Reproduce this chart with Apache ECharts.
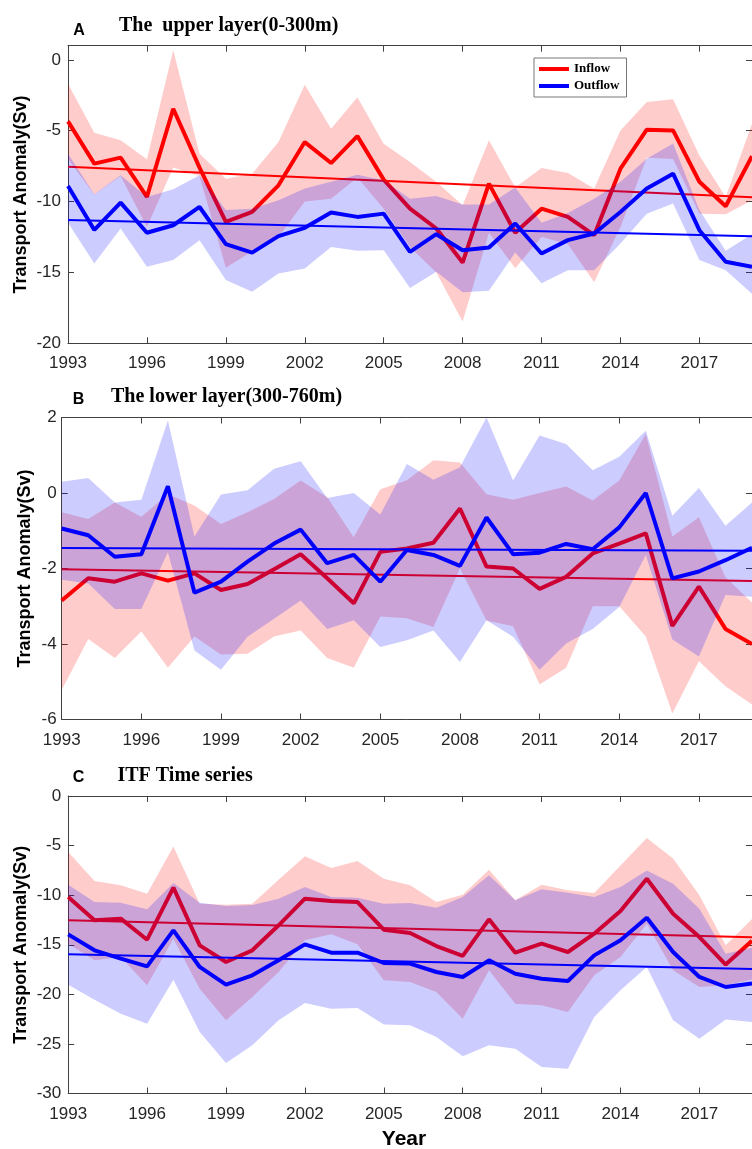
<!DOCTYPE html>
<html><head><meta charset="utf-8">
<script src="https://cdn.jsdelivr.net/npm/echarts@6/dist/echarts.min.js"></script>
<style>html,body{margin:0;padding:0;background:#fff}#c{width:752px;height:1149px}</style>
</head><body><div id="c"></div>
<script>
// ---------- data ----------
const years = ['1993','1994','1995','1996','1997','1998','1999','2000','2001','2002','2003','2004','2005','2006','2007','2008','2009','2010','2011','2012','2013','2014','2015','2016','2017','2018','2019'];

// Panel A: upper layer (0-300m)
const inflowA      = [-4.34,-7.32,-6.9,-9.67,-3.45,-7.6,-11.43,-10.73,-8.85,-5.8,-7.28,-5.38,-8.45,-10.5,-11.9,-14.3,-8.73,-12.2,-10.5,-11.08,-12.37,-7.68,-4.93,-4.98,-8.6,-10.33,-6.8];
const inflowA_hi   = [-1.69,-5.14,-5.68,-7.02,0.7,-6.62,-8.38,-8.03,-5.8,-1.76,-4.86,-2.63,-5.92,-7.2,-8.6,-10.26,-5.68,-9.0,-7.63,-7.98,-9.08,-4.98,-2.98,-2.77,-6.74,-9.67,-4.5];
const inflowA_lo   = [-7.0,-9.5,-8.2,-11.8,-7.6,-8.2,-14.67,-13.5,-12.5,-10.0,-9.8,-8.3,-10.5,-13.2,-15.0,-18.47,-12.2,-14.7,-12.5,-13.0,-15.7,-11.8,-6.9,-7.0,-10.85,-10.9,-9.9];
const outflowA     = [-8.9,-12.0,-10.07,-12.2,-11.67,-10.38,-13.0,-13.6,-12.44,-11.85,-10.77,-11.08,-10.85,-13.55,-12.3,-13.43,-13.24,-11.55,-13.66,-12.72,-12.25,-10.73,-9.08,-8.03,-12.02,-14.25,-14.6];
const outflowA_hi  = [-6.62,-9.48,-8.15,-9.67,-9.13,-8.15,-10.6,-10.5,-9.9,-9.08,-8.6,-8.1,-8.5,-9.8,-9.6,-10.2,-10.2,-9.0,-11.5,-10.8,-9.8,-8.6,-6.97,-5.9,-10.6,-13.47,-12.3];
const outflowA_lo  = [-11.5,-14.37,-11.9,-14.6,-14.13,-12.72,-15.54,-16.36,-15.07,-14.72,-13.2,-13.47,-13.43,-16.1,-14.95,-16.4,-16.3,-13.6,-15.77,-14.84,-14.84,-12.96,-10.85,-10.14,-14.13,-14.84,-16.5];
const trendInA  = [-7.55, -9.7];
const trendOutA = [-11.3, -12.45];

// Panel B: lower layer (300-760m)
const inflowB      = [-2.85,-2.26,-2.35,-2.13,-2.32,-2.13,-2.57,-2.41,-2.02,-1.62,-2.26,-2.92,-1.56,-1.47,-1.32,-0.41,-1.95,-2.0,-2.54,-2.22,-1.6,-1.34,-1.07,-3.52,-2.48,-3.6,-4.0];
const inflowB_hi   = [-0.51,-0.69,-0.25,-0.63,-0.03,-0.33,-0.82,-0.51,-0.16,0.33,-0.11,-1.17,0.1,0.34,0.87,0.81,-0.03,-0.18,0.0,0.17,-0.2,0.33,1.56,-1.15,-0.64,-2.23,-2.9];
const inflowB_lo   = [-5.22,-3.87,-4.37,-3.67,-4.63,-3.8,-4.28,-4.26,-3.8,-3.64,-4.37,-4.63,-3.27,-3.32,-3.55,-2.0,-3.38,-3.53,-5.07,-4.63,-3.0,-3.0,-3.8,-5.84,-4.46,-5.12,-5.6];
const outflowB     = [-0.94,-1.12,-1.69,-1.62,0.18,-2.64,-2.35,-1.82,-1.34,-0.97,-1.86,-1.64,-2.35,-1.51,-1.64,-1.93,-0.65,-1.62,-1.58,-1.35,-1.49,-0.91,0.0,-2.26,-2.08,-1.78,-1.45];
const outflowB_hi  = [0.3,0.4,-0.25,-0.18,1.92,-1.15,-0.04,0.07,0.64,0.84,-0.13,0.0,-0.57,0.77,0.35,0.68,2.0,0.33,1.52,1.3,0.6,0.96,1.65,-0.6,0.13,-0.87,-0.25];
const outflowB_lo  = [-2.3,-2.4,-3.07,-3.07,-1.57,-4.17,-4.68,-3.81,-3.33,-2.85,-3.6,-3.37,-4.08,-3.9,-3.64,-4.48,-3.37,-3.81,-4.68,-3.99,-3.6,-3.02,-1.64,-3.88,-4.33,-2.7,-2.75];
const trendInB  = [-2.02, -2.33];
const trendOutB = [-1.46, -1.53];

// Panel C: ITF time series
const inflowC      = [-10.18,-12.54,-12.37,-14.49,-9.24,-15.06,-16.74,-15.56,-13.04,-10.35,-10.59,-10.69,-13.48,-13.82,-15.13,-16.13,-12.44,-15.8,-14.89,-15.73,-13.88,-11.6,-8.34,-11.87,-14.22,-17.0,-14.6];
const inflowC_hi   = [-5.65,-8.57,-9.0,-9.85,-5.08,-10.86,-10.96,-10.86,-8.44,-6.08,-7.26,-6.55,-8.34,-9.0,-10.7,-9.95,-7.43,-10.5,-8.94,-9.5,-9.78,-7.0,-4.24,-6.3,-10.0,-15.06,-12.4];
const inflowC_lo   = [-14.89,-16.57,-16.24,-19.09,-14.39,-19.43,-22.62,-20.27,-17.75,-14.55,-13.95,-14.96,-18.59,-18.76,-19.76,-22.45,-17.58,-20.94,-21.1,-21.78,-18.08,-16.24,-12.87,-17.58,-19.26,-19.09,-18.5];
const outflowC     = [-13.95,-15.56,-16.4,-17.18,-13.55,-17.24,-19.03,-18.08,-16.57,-14.96,-15.8,-15.8,-16.84,-16.9,-17.75,-18.25,-16.57,-17.92,-18.42,-18.66,-16.07,-14.55,-12.27,-15.73,-18.25,-19.26,-18.9];
const outflowC_hi  = [-8.94,-10.7,-10.76,-11.43,-8.77,-10.76,-11.1,-11.0,-10.35,-9.18,-10.18,-10.25,-10.86,-10.79,-11.26,-10.18,-8.0,-10.52,-9.41,-9.75,-10.18,-9.18,-7.5,-8.84,-11.36,-15.9,-15.3];
const outflowC_lo  = [-19.03,-20.54,-21.95,-22.96,-18.52,-23.8,-26.92,-25.14,-22.62,-20.87,-21.45,-21.38,-23.03,-23.13,-24.3,-26.25,-25.14,-25.48,-27.33,-27.5,-22.29,-19.6,-17.24,-22.62,-24.47,-22.55,-22.8];
const trendInC  = [-12.54, -14.25];
const trendOutC = [-15.97, -17.45];

const titles = ['The  upper layer(0-300m)', 'The lower layer(300-760m)', 'ITF Time series'];
const letters = ['A', 'B', 'C'];
const yName = 'Transport Anomaly(Sv)';
const xName = 'Year';

// ---------- layout / style ----------
const SANS = 'Arial, "Liberation Sans", Helvetica, sans-serif';
const SERIF = '"Times New Roman", "Liberation Serif", serif';
const AX = '#404040';
const RED = '#ff0000', BLUE = '#0000ff';
const RED_BAND = 'rgba(255,0,0,0.2)', BLUE_BAND = 'rgba(0,0,255,0.2)';

const panels = [
  {grid:{left:68, top:45.7, width:690.3, height:297.6}, y:[-20,1,5], showMax:false, labelMargin:7, nameGap:38,
   inn:inflowA, innHi:inflowA_hi, innLo:inflowA_lo, out:outflowA, outHi:outflowA_hi, outLo:outflowA_lo, tIn:trendInA, tOut:trendOutA},
  {grid:{left:61.7, top:417.5, width:699.4, height:302}, y:[-6,2,2], showMax:true, labelMargin:5, nameGap:28,
   inn:inflowB, innHi:inflowB_hi, innLo:inflowB_lo, out:outflowB, outHi:outflowB_hi, outLo:outflowB_lo, tIn:trendInB, tOut:trendOutB},
  {grid:{left:68.2, top:796, width:690.3, height:297.5}, y:[-30,0,5], showMax:true, labelMargin:7, nameGap:38,
   inn:inflowC, innHi:inflowC_hi, innLo:inflowC_lo, out:outflowC, outHi:outflowC_hi, outLo:outflowC_lo, tIn:trendInC, tOut:trendOutC}
];

const grids = [], xAxes = [], yAxes = [], series = [];
const diff = (hi, lo) => hi.map((v, i) => +(v - lo[i]).toFixed(3));
const first = years[0], last = years[years.length - 1];

panels.forEach((p, i) => {
  grids.push(Object.assign({containLabel:false}, p.grid));
  const xBase = {type:'category', gridIndex:i, data:years, boundaryGap:false,
    axisLine:{show:true, onZero:false, lineStyle:{color:AX, width:1}},
    axisTick:{show:true, inside:true, length:6, interval:2, lineStyle:{color:AX}},
    splitLine:{show:false}};
  xAxes.push(Object.assign({}, xBase, {position:'bottom',
    axisLabel:{interval:2, margin:12, fontSize:17, color:'#262626', fontFamily:SANS}}));
  xAxes.push(Object.assign({}, xBase, {position:'top', axisLabel:{show:false}}));
  const yBase = {type:'value', gridIndex:i, min:p.y[0], max:p.y[1], interval:p.y[2],
    axisLine:{show:true, onZero:false, lineStyle:{color:AX, width:1}},
    axisTick:{show:true, inside:true, length:6, lineStyle:{color:AX}},
    splitLine:{show:false}};
  yAxes.push(Object.assign({}, yBase, {position:'left',
    axisLabel:{margin:p.labelMargin, fontSize:17, color:'#262626', fontFamily:SANS, showMaxLabel:p.showMax},
    name:yName, nameLocation:'middle', nameGap:p.nameGap, nameRotate:90, nameMoveOverlap:false,
    nameTextStyle:{fontFamily:SANS, fontWeight:'bold', fontSize:18, color:'#000'}}));
  yAxes.push(Object.assign({}, yBase, {position:'right', axisLabel:{show:false}}));

  const xi = 2 * i, yi = 2 * i;
  const common = {type:'line', xAxisIndex:xi, yAxisIndex:yi, symbol:'none', silent:true,
    emphasis:{disabled:true}, animation:false};
  const band = (lo, hi, color, key, z) => [
    Object.assign({}, common, {name:key + ' lower', data:lo, stack:key, stackStrategy:'all', z:z,
      lineStyle:{width:0, opacity:0}}),
    Object.assign({}, common, {name:key + ' band', data:diff(hi, lo), stack:key, stackStrategy:'all', z:z,
      lineStyle:{width:0, opacity:0}, areaStyle:{color:color, opacity:1}})
  ];
  series.push(...band(p.innLo, p.innHi, RED_BAND, 'in' + i, 1));
  series.push(Object.assign({}, common, {name:'Inflow', data:p.inn, z:2,
    lineStyle:{color:RED, width:4}, itemStyle:{color:RED}}));
  series.push(Object.assign({}, common, {name:'Inflow trend', data:[[first, p.tIn[0]], [last, p.tIn[1]]], z:3,
    lineStyle:{color:RED, width:2}, itemStyle:{color:RED}}));
  series.push(...band(p.outLo, p.outHi, BLUE_BAND, 'out' + i, 4));
  series.push(Object.assign({}, common, {name:'Outflow', data:p.out, z:5,
    lineStyle:{color:BLUE, width:4}, itemStyle:{color:BLUE}}));
  series.push(Object.assign({}, common, {name:'Outflow trend', data:[[first, p.tOut[0]], [last, p.tOut[1]]], z:6,
    lineStyle:{color:BLUE, width:2}, itemStyle:{color:BLUE}}));
});

const txt = (x, y, text, font, align) => ({type:'text', x:x, y:y, silent:true, z:20,
  style:{text:text, font:font, fill:'#000', align:align || 'left', verticalAlign:'middle'}});

const graphics = [
  txt(79, 31, letters[0], 'bold 16px ' + SANS, 'center'),
  txt(119, 26, titles[0], 'bold 20px ' + SERIF),
  txt(78.5, 400, letters[1], 'bold 16px ' + SANS, 'center'),
  txt(111, 397, titles[1], 'bold 20px ' + SERIF),
  txt(78.5, 777.5, letters[2], 'bold 16px ' + SANS, 'center'),
  txt(117.5, 776, titles[2], 'bold 20px ' + SERIF),
  txt(404, 1139, xName, 'bold 21px ' + SANS, 'center')
];

const chart = echarts.init(document.getElementById('c'), null, {renderer:'canvas', width:752, height:1149});
chart.setOption({
  animation:false,
  backgroundColor:'#fff',
  grid:grids, xAxis:xAxes, yAxis:yAxes, series:series,
  legend:{data:['Inflow','Outflow'], left:534, top:58, orient:'vertical', icon:'rect', z:10,
    itemWidth:30, itemHeight:4, itemGap:3, padding:[4,7,4,5],
    borderColor:'#777', borderWidth:1, backgroundColor:'#fff', selectedMode:false,
    textStyle:{fontFamily:SERIF, fontWeight:'bold', fontSize:13, color:'#000', lineHeight:14}},
  graphic:graphics
});
</script></body></html>
